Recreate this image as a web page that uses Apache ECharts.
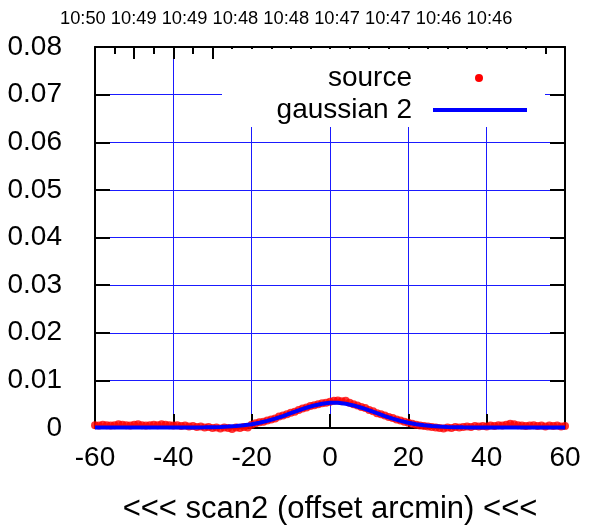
<!DOCTYPE html>
<html><head><meta charset="utf-8">
<script src="https://cdn.jsdelivr.net/npm/echarts@6/dist/echarts.min.js"></script>
<style>html,body{margin:0;padding:0;background:#fff}#c{width:603px;height:527px}</style>
</head><body><div id="c"></div>
<script>
// ---- data ----
const timeLabels = ['10:50','10:49','10:49','10:48','10:48','10:47','10:47','10:46','10:46'];
const xAxisName = '<<< scan2 (offset arcmin) <<<';
const legendNames = ['source', 'gaussian 2'];

const sourceX = [
 -60,-59,-58,-57,-56,-55,-54,-53,-52,-51,-50,-49,-48,-47,-46,-45,-44,-43,-42,-41,
 -40,-39,-38,-37,-36,-35,-34,-33,-32,-31,-30,-29,-28,-27,-26,-25,-24,-23,-22,-21,
 -20,-19,-18,-17,-16,-15,-14,-13,-12,-11,-10,-9,-8,-7,-6,-5,-4,-3,-2,-1,
 0,1,2,3,4,5,6,7,8,9,10,11,12,13,14,15,16,17,18,19,
 20,21,22,23,24,25,26,27,28,29,30,31,32,33,34,35,36,37,38,39,
 40,41,42,43,44,45,46,47,48,49,50,51,52,53,54,55,56,57,58,59,60];
const sourceY = [
 0.0006,0.0005,0.0007,0.0006,0.0005,0.0006,0.0008,0.0007,0.0006,0.0005,0.0007,0.0008,0.0006,0.0005,0.0006,0.0007,0.0006,0.0008,0.0007,0.0006,
 0.0005,0.0006,0.0004,0.0005,0.0003,0.0004,0.0002,0.0003,0.0001,0.0002,0.0000,0.0001,-0.0001,0.0001,0.0000,-0.0002,0.0001,0.0000,0.0002,0.0001,
 0.0007,0.0010,0.0012,0.0013,0.0016,0.0018,0.0020,0.0024,0.0026,0.0029,0.0032,0.0034,0.0038,0.0041,0.0043,0.0046,0.0048,0.0050,0.0052,0.0053,
 0.0055,0.0057,0.0058,0.0056,0.0057,0.0053,0.0050,0.0047,0.0044,0.0042,0.0038,0.0035,0.0031,0.0029,0.0026,0.0023,0.0021,0.0018,0.0016,0.0013,
 0.0011,0.0009,0.0007,0.0005,0.0004,0.0003,0.0002,0.0001,0.0000,-0.0001,0.0001,0.0000,0.0002,0.0001,0.0002,0.0003,0.0002,0.0004,0.0003,0.0004,
 0.0003,0.0005,0.0004,0.0006,0.0005,0.0007,0.0009,0.0008,0.0006,0.0005,0.0004,0.0005,0.0006,0.0004,0.0005,0.0003,0.0005,0.0004,0.0005,0.0003,0.0004];

const gaussX = [
 -60,-58,-56,-54,-52,-50,-48,-46,-44,-42,-40,-38,-36,-34,-32,-30,-28,-26,-24,-22,
 -20,-18,-16,-14,-12,-10,-8,-6,-4,-2,0,2,4,6,8,10,12,14,16,18,
 20,22,24,26,28,30,32,34,36,38,40,42,44,46,48,50,52,54,56,58,60];
const gaussY = [
 0.0001,0.0001,0.0001,0.0001,0.0001,0.0001,0.0001,0.0001,0.0001,0.0001,0.0001,0.0001,
 0.00011,0.00012,0.00014,0.00017,0.00021,0.00029,0.00040,0.00057,
 0.00080,0.00111,0.00150,0.00197,0.00251,0.00310,0.00370,0.00426,0.00474,0.00509,0.00528,
 0.00528,0.00509,0.00474,0.00426,0.00370,0.00310,0.00251,0.00197,0.00150,0.00111,
 0.00080,0.00057,0.00040,0.00029,0.00021,0.00017,0.00014,0.00012,0.00011,
 0.0001,0.0001,0.0001,0.0001,0.0001,0.0001,0.0001,0.0001,0.0001,0.0001,0.0001];

// ---- chart ----
const FONT = '"Liberation Sans", Arial, sans-serif';
const chart = echarts.init(document.getElementById('c'), null, {renderer: 'canvas'});
const blk = () => ({color: '#000', width: 2});
const gridLine = () => ({show: true, showMinLine: false, showMaxLine: false, lineStyle: {color: '#1a1aff', width: 1}});
const bigText = () => ({fontSize: 28, color: '#000', fontFamily: FONT});

const option = {
  animation: false,
  backgroundColor: '#fff',
  grid: {left: 95, right: 38, top: 47, bottom: 99, outerBoundsMode: 'none'},
  xAxis: [
    {type: 'value', position: 'bottom', min: -60, max: 60, interval: 20,
     axisLine: {show: true, onZero: false, lineStyle: blk()},
     axisTick: {show: true, inside: true, length: 14, lineStyle: blk()},
     axisLabel: Object.assign({margin: 16}, bigText()),
     splitLine: gridLine(),
     name: xAxisName, nameLocation: 'middle', nameGap: 66,
     nameTextStyle: {fontSize: 31, color: '#000', fontFamily: FONT}},
    {type: 'value', position: 'top', min: -60, max: 60, interval: 10,
     axisLine: {show: true, onZero: false, lineStyle: blk()},
     axisTick: {show: true, inside: false, length: -12, lineStyle: blk()},
     minorTick: {show: true, splitNumber: 2, length: -7, lineStyle: blk()},
     axisLabel: {show: true, color: 'rgba(0,0,0,0)', fontSize: 6, margin: 2},
     splitLine: {show: false}}
  ],
  yAxis: [
    {type: 'value', position: 'left', min: 0, max: 0.08, interval: 0.01,
     axisLine: {show: true, onZero: false, lineStyle: blk()},
     axisTick: {show: true, inside: true, length: 15, lineStyle: blk()},
     axisLabel: Object.assign({margin: 33, formatter: v => v === 0 ? '0' : v.toFixed(2)}, bigText()),
     splitLine: gridLine()},
    {type: 'value', position: 'right', min: 0, max: 0.08, interval: 0.01,
     axisLine: {show: true, onZero: false, lineStyle: blk()},
     axisTick: {show: true, inside: true, length: 15, lineStyle: blk()},
     axisLabel: {show: false}, splitLine: {show: false}}
  ],
  graphic: [
    {type: 'rect', z: 1, silent: true, shape: {x: 222, y: 49, width: 323, height: 78},
     style: {fill: '#fff'}},
    {type: 'text', z: 5, left: 60, top: 10,
     style: {text: timeLabels.join(' '), fontSize: 18.3, fill: '#000', fontFamily: FONT}},
    {type: 'text', z: 5, x: 412, y: 78,
     style: {text: legendNames[0], fontSize: 28, fill: '#000', fontFamily: FONT, align: 'right', verticalAlign: 'middle'}},
    {type: 'text', z: 5, x: 412, y: 110,
     style: {text: legendNames[1], fontSize: 28, fill: '#000', fontFamily: FONT, align: 'right', verticalAlign: 'middle'}},
    {type: 'circle', z: 5, shape: {cx: 479, cy: 78, r: 4}, style: {fill: '#ff0000'}},
    {type: 'line', z: 5, shape: {x1: 433, y1: 110, x2: 527, y2: 110}, style: {stroke: '#0000ff', lineWidth: 4}}
  ],
  series: [
    {name: legendNames[0], type: 'scatter', xAxisIndex: 0, yAxisIndex: 0, z: 2, clip: false,
     symbolSize: 8, itemStyle: {color: '#ff0000'},
     data: sourceX.map((x, i) => [x, sourceY[i]])},
    {name: legendNames[1], type: 'line', xAxisIndex: 0, yAxisIndex: 0, z: 3,
     showSymbol: false, symbol: 'none', smooth: false,
     lineStyle: {color: '#0000ff', width: 4},
     data: gaussX.map((x, i) => [x, gaussY[i]])}
  ]
};
chart.setOption(option);
</script>
</body></html>
